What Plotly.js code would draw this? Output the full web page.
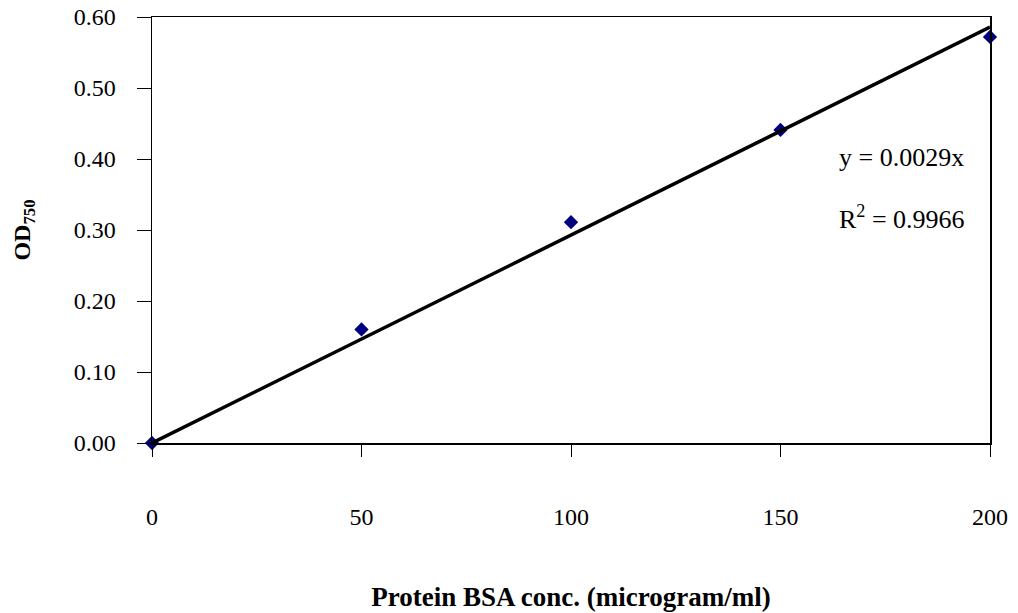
<!DOCTYPE html>
<html>
<head>
<meta charset="utf-8">
<script src="https://cdn.plot.ly/plotly-3.0.1.min.js"></script>
<style>html,body{margin:0;padding:0;background:#fff;}#chart{width:1018px;height:613px;}</style>
</head>
<body>
<div id="chart"></div>
<script>
// Data
const concentration = [0, 50, 100, 150, 200];
const od750 = [0.000, 0.160, 0.311, 0.441, 0.572];
const xTickVals = [0, 50, 100, 150, 200];
const xTickText = ['0', '50', '100', '150', '200'];
const yTickVals = [0, 0.1, 0.2, 0.3, 0.4, 0.5, 0.6];
const yTickText = ['0.00', '0.10', '0.20', '0.30', '0.40', '0.50', '0.60'];
const equationText = 'y = 0.0029x';
const r2Text = 'R<sup>2</sup> = 0.9966';

// Linear trendline through the origin (least squares)
let sxy = 0, sxx = 0;
for (let i = 0; i < concentration.length; i++) {
  sxy += concentration[i] * od750[i];
  sxx += concentration[i] * concentration[i];
}
const slope = sxy / sxx;
const xMin = Math.min(...concentration), xMax = Math.max(...concentration);
const trendX = [xMin, xMax];
const trendY = trendX.map(v => slope * v);

const font = 'Liberation Serif, Times New Roman, serif';

const traces = [
  {
    x: concentration, y: od750, type: 'scatter', mode: 'markers',
    marker: {symbol: 'diamond', size: 11, color: '#000080'},
    hoverinfo: 'skip', cliponaxis: false
  },
  {
    x: trendX, y: trendY, type: 'scatter', mode: 'lines',
    line: {color: '#000000', width: 3.5},
    hoverinfo: 'skip', cliponaxis: false
  }
];

const layout = {
  width: 1018, height: 613,
  margin: {l: 152, r: 28, t: 17, b: 170},
  paper_bgcolor: '#ffffff', plot_bgcolor: '#ffffff',
  showlegend: false,
  font: {family: font, color: '#000000', size: 24},
  xaxis: {
    range: [0, 200], tickvals: xTickVals, ticktext: xTickText,
    ticks: 'outside', ticklen: 12, tickwidth: 1, tickcolor: '#000',
    showgrid: false, zeroline: false,
    showline: true, linecolor: '#000', linewidth: 1.5, mirror: true,
    tickfont: {family: font, size: 24, color: '#000'},
    ticklabelstandoff: 40,
    title: {text: '<b>Protein BSA conc. (microgram/ml)</b>', font: {family: font, size: 27, color: '#000'}, standoff: 58}
  },
  yaxis: {
    range: [0, 0.6], tickvals: yTickVals, ticktext: yTickText,
    ticks: 'outside', ticklen: 14, tickwidth: 1, tickcolor: '#000',
    showgrid: false, zeroline: false,
    showline: true, linecolor: '#000', linewidth: 1.5, mirror: true,
    tickfont: {family: font, size: 24, color: '#000'},
    ticklabelstandoff: 16,
    title: {text: '<b>OD<sub>750</sub></b>', font: {family: font, size: 24, color: '#000'}, standoff: 36}
  },
  annotations: [
    {xref: 'paper', yref: 'paper', x: 0.818, y: 0.671, xanchor: 'left', yanchor: 'middle',
     text: equationText, showarrow: false, font: {family: font, size: 26, color: '#000'}},
    {xref: 'paper', yref: 'paper', x: 0.818, y: 0.530, xanchor: 'left', yanchor: 'middle',
     text: r2Text, showarrow: false, font: {family: font, size: 26, color: '#000'}}
  ]
};

Plotly.newPlot('chart', traces, layout, {displayModeBar: false, staticPlot: true});
</script>
</body>
</html>
